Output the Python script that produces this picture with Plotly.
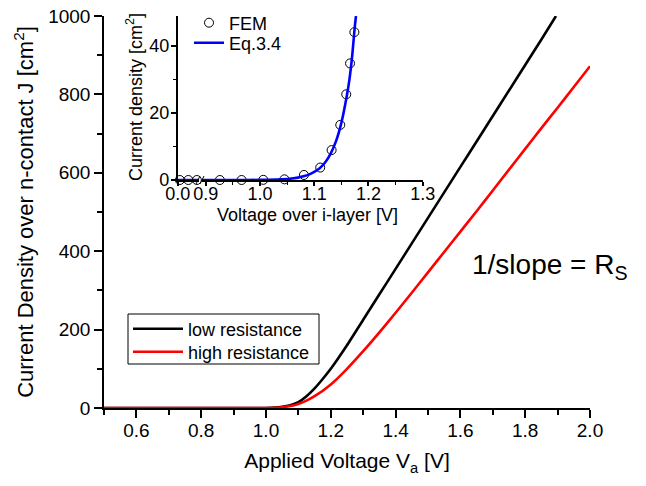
import plotly.graph_objects as go

# ---------------- data ----------------
v_low = [0.5, 0.6, 0.7, 0.8, 0.9, 1.0, 1.05, 1.075, 1.1, 1.125, 1.15, 1.175, 1.2, 1.25, 1.3, 1.35,
         1.4, 1.45, 1.5, 1.55, 1.6, 1.65, 1.7, 1.75, 1.8, 1.85, 1.895]
j_low = [0, 0, 0, 0, 0, 0, 3, 7, 15, 30, 50, 74, 100, 160, 225, 290,
         355, 420, 485, 550, 615, 680, 745, 810, 875, 940, 1000]

v_high = [0.5, 0.6, 0.7, 0.8, 0.9, 1.0, 1.05, 1.1, 1.15, 1.2, 1.25, 1.3, 1.35, 1.4, 1.45,
          1.5, 1.55, 1.6, 1.65, 1.7, 1.75, 1.8, 1.85, 1.9, 1.95, 2.0]
j_high = [0, 0, 0, 0, 0, 0, 2, 10, 30, 60, 100, 145, 193, 243, 294,
          346, 398, 450, 502, 555, 608, 661, 714, 766, 819, 872]

# inset: left (broken) segment
fem_v_left = [0.005, 0.025, 0.045]
fem_j_left = [0, 0, 0]
eq_v_left = [0.0, 0.05]
eq_j_left = [0, 0]

# inset: right segment
fem_v = [0.926, 0.966, 1.006, 1.045, 1.081, 1.111, 1.132, 1.148, 1.159, 1.166, 1.174]
fem_j = [0, 0, 0.05, 0.2, 1.5, 3.7, 8.9, 16.4, 25.5, 34.7, 44.0]
eq_v = [0.893, 0.95, 1.0, 1.03, 1.05, 1.07, 1.08, 1.09, 1.10, 1.11, 1.12, 1.13, 1.14,
        1.15, 1.16, 1.165, 1.17, 1.175, 1.177]
eq_j = [0, 0, 0.03, 0.12, 0.3, 0.7, 1.1, 1.6, 2.4, 3.5, 5.2, 7.8, 11.5,
        17, 25, 30, 37, 46, 48.8]

main_xticks = [0.6, 0.8, 1.0, 1.2, 1.4, 1.6, 1.8, 2.0]
main_xticktext = ["0.6", "0.8", "1.0", "1.2", "1.4", "1.6", "1.8", "2.0"]
main_yticks = [0, 200, 400, 600, 800, 1000]
inset_xticks = [0.9, 1.0, 1.1, 1.2, 1.3]
inset_xticktext = ["0.9", "1.0", "1.1", "1.2", "1.3"]
inset_yticks = [0, 20, 40]

# ---------------- layout helpers ----------------
W, H = 646, 486
L, R, T, B = 104, 590, 16, 408


def px2x(px):
    return (px - L) / (R - L)


def px2y(py):
    return (B - py) / (B - T)


FONT = "Liberation Sans, Arial, sans-serif"

fig = go.Figure()

fig.add_trace(go.Scatter(x=v_low, y=j_low, mode="lines", name="low resistance",
                         line=dict(color="black", width=2.6, shape="spline", smoothing=0.6),
                         legend="legend"))
fig.add_trace(go.Scatter(x=v_high, y=j_high, mode="lines", name="high resistance",
                         line=dict(color="#ff0000", width=2.6, shape="spline", smoothing=0.6),
                         legend="legend3"))

# inset traces
fig.add_trace(go.Scatter(x=eq_v_left, y=eq_j_left, mode="lines", xaxis="x3", yaxis="y3",
                         line=dict(color="#0000ff", width=2.6), showlegend=False))
fig.add_trace(go.Scatter(x=fem_v_left, y=fem_j_left, mode="markers", xaxis="x3", yaxis="y3",
                         marker=dict(symbol="circle-open", size=9, color="black",
                                     line=dict(width=1)), showlegend=False, cliponaxis=False))
fig.add_trace(go.Scatter(x=fem_v, y=fem_j, mode="markers", xaxis="x4", yaxis="y3", name="FEM",
                         marker=dict(symbol="circle-open", size=9, color="black",
                                     line=dict(width=1)), legend="legend2", cliponaxis=False))
fig.add_trace(go.Scatter(x=eq_v, y=eq_j, mode="lines", xaxis="x4", yaxis="y3", name="Eq.3.4",
                         line=dict(color="#0000ff", width=2.6, shape="spline", smoothing=0.5),
                         legend="legend4"))

axis_common = dict(showline=True, linecolor="black", linewidth=1.5, ticks="outside",
                   tickcolor="black", tickwidth=1.5, showgrid=False, zeroline=False,
                   mirror=False)


def leg(xpx, ypx, size=18, iw=30):
    return dict(x=px2x(xpx), y=px2y(ypx), xanchor="left", yanchor="middle",
                borderwidth=0, bgcolor="rgba(0,0,0,0)", font=dict(size=size),
                itemwidth=iw, tracegroupgap=0)


fig.update_layout(
    width=W, height=H,
    margin=dict(l=L, r=W - R, t=T, b=H - B, pad=0, autoexpand=False),
    paper_bgcolor="white", plot_bgcolor="white",
    font=dict(family=FONT, color="black", size=19),
    xaxis=dict(**axis_common, range=[0.5, 2.0], tickvals=main_xticks, ticktext=main_xticktext,
               ticklen=8, minor=dict(dtick=0.1, tick0=0.5, ticklen=5, ticks="outside",
                                     tickcolor="black", tickwidth=1.5),
               tickfont=dict(size=19), ticklabelstandoff=-4,
               title=dict(text="Applied Voltage V<sub>a</sub> [V]", font=dict(size=21),
                          standoff=14)),
    yaxis=dict(**axis_common, range=[0, 1000], tickvals=main_yticks, ticklen=8,
               minor=dict(dtick=100, ticklen=5, ticks="outside", tickcolor="black",
                          tickwidth=1.5),
               tickfont=dict(size=19),
               title=dict(text="Current Density over n-contact J [cm<sup>2</sup>]",
                          font=dict(size=22), standoff=8)),
    xaxis3=dict(**axis_common, domain=[px2x(177.7), px2x(199)], range=[0, 0.05],
                anchor="y3", tickvals=[0], ticktext=["0.0"], ticklen=4,
                tickfont=dict(size=18), ticklabelstandoff=-7),
    xaxis4=dict(**axis_common, domain=[px2x(202), px2x(422.7)], range=[0.893, 1.3],
                anchor="y3", tickvals=inset_xticks, ticktext=inset_xticktext, ticklen=4,
                minor=dict(dtick=0.05, tick0=0.9, ticklen=3, ticks="outside",
                           tickcolor="black", tickwidth=1),
                tickfont=dict(size=18), ticklabelstandoff=-7),
    yaxis3=dict(**axis_common, domain=[px2y(180), 1.0], range=[0, 48.8], anchor="x3",
                tickvals=inset_yticks, ticklen=5,
                minor=dict(dtick=10, ticklen=3, ticks="outside", tickcolor="black",
                           tickwidth=1),
                tickfont=dict(size=18), ticklabelstandoff=-2),
    legend=leg(128, 329, 18, 50),
    legend3=leg(128, 352, 18, 50),
    legend2=leg(189, 23, 18, 30),
    legend4=leg(189, 43, 18, 30),
)

# main legend frame
fig.add_shape(type="rect", xref="paper", yref="paper",
              x0=px2x(128), y0=px2y(364), x1=px2x(319), y1=px2y(314),
              line=dict(color="black", width=1), layer="below")

# inset axis titles
fig.add_annotation(text="Voltage over i-layer [V]", xref="paper", yref="paper",
                   x=px2x(307), y=px2y(215), xanchor="center", yanchor="middle",
                   showarrow=False, font=dict(size=18))
fig.add_annotation(text="Current density [cm<sup>2</sup>]", xref="paper", yref="paper",
                   x=px2x(135), y=px2y(97), xanchor="center", yanchor="middle",
                   textangle=-90, showarrow=False, font=dict(size=18))

# slope label
fig.add_annotation(text="1/slope = R<sub>S</sub>", xref="paper", yref="paper",
                   x=px2x(470), y=px2y(266), xanchor="left", yanchor="middle",
                   showarrow=False, font=dict(size=28))

# axis-break marks
for dx in (0, 4):
    fig.add_shape(type="line", xref="paper", yref="paper",
                  x0=px2x(196 + dx), y0=px2y(184), x1=px2x(200 + dx), y1=px2y(176),
                  line=dict(color="black", width=1))

fig.write_html("out.html")
